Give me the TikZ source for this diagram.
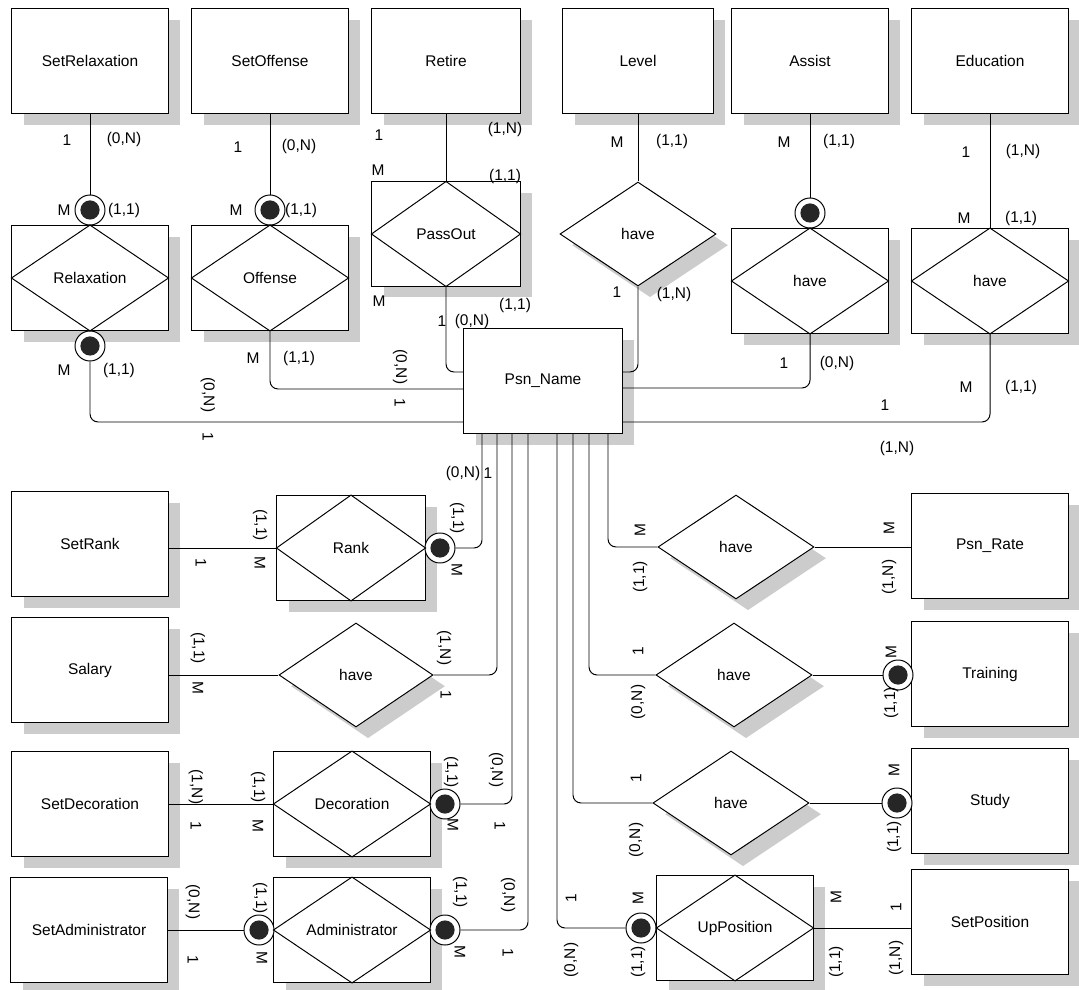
\documentclass[tikz,border=0pt]{standalone}
\usepackage{fontspec}
\setmainfont{Liberation Sans}
\usetikzlibrary{shapes.geometric,shadows}
\tikzset{
  entity/.style={draw, fill=white, minimum width=3.9cm, minimum height=2.62cm,
                 font=\fontsize{11}{13}\selectfont, inner sep=2pt,
                 drop shadow={shadow xshift=0.3cm, shadow yshift=-0.28cm,
                              fill=gray!40, opacity=1}},
  rel/.style   ={diamond, draw, fill=white, minimum width=3.9cm, minimum height=2.6cm,
                 font=\fontsize{11}{13}\selectfont, inner sep=0pt,
                 drop shadow={shadow xshift=0.3cm, shadow yshift=-0.28cm,
                              fill=gray!40, opacity=1}},
  optc/.style  ={circle, draw, fill=white, minimum size=0.75cm, inner sep=0pt,
                 path picture={\fill[black!85] (path picture bounding box.center) circle (0.24cm);}},
  conn/.style  ={rounded corners=0.2cm},
  lab/.style   ={font=\fontsize{11}{13}\selectfont, inner sep=0pt},
  labl/.style  ={lab, rotate=-90},
  labr/.style  ={lab, rotate=90},
}
\begin{document}
\begin{tikzpicture}[x=0.025cm, y=-0.025cm, line width=0.7pt]
  \useasboundingbox (0,0) rectangle (1079,990);
  %% top row
  \node[entity] (eSetRelax) at (90,61) {SetRelaxation};
  \node[entity] (eSetOff) at (270,61) {SetOffense};
  \node[entity, minimum width=3.7cm] (eRetire) at (446,61) {Retire};
  \node[entity, minimum width=3.75cm] (eLevel) at (638,61) {Level};
  \node[entity] (eAssist) at (810,61) {Assist};
  \node[entity] (eEdu) at (990,61) {Education};
  %% relationships under the top row
  \node[entity] (rRelax) at (90,278) {Relaxation};
  \node[entity] (rOff) at (270,278) {Offense};
  \node[entity, minimum width=3.7cm, minimum height=2.6cm] (rPass) at (446,234) {PassOut};
  \node[rel] (dLevel) at (638,234) {have};
  \node[entity] (rAssist) at (810,281) {have};
  \node[entity] (rEdu) at (990,281) {have};
  \node[optc] (cRelaxT) at (90,210) {};
  \node[optc] (cRelaxB) at (90,346) {};
  \node[optc] (cOffT) at (270,210) {};
  \node[optc] (cAssist) at (810,213) {};
  %% center
  \node[entity, minimum width=3.95cm] (psn) at (543,381) {Psn\_Name};
  %% lower left
  \node[entity] (eSetRank) at (90,544) {SetRank};
  \node[entity, minimum width=3.7cm] (rRank) at (351,548) {Rank};
  \node[optc] (cRank) at (440,548) {};
  \node[entity] (eSalary) at (90,670) {Salary};
  \node[rel, minimum width=3.85cm] (dSalary) at (356,675) {have};
  \node[entity] (eSetDec) at (90,804) {SetDecoration};
  \node[entity] (rDec) at (352,804) {Decoration};
  \node[optc] (cDec) at (445,804) {};
  \node[entity] (eSetAdm) at (89,930) {SetAdministrator};
  \node[entity] (rAdm) at (352,930) {Administrator};
  \node[optc] (cAdmL) at (259,930) {};
  \node[optc] (cAdmR) at (445,930) {};
  %% lower right
  \node[rel] (dRate) at (736,547) {have};
  \node[entity] (eRate) at (990,546) {Psn\_Rate};
  \node[rel] (dTrain) at (734,675) {have};
  \node[entity] (eTrain) at (990,674) {Training};
  \node[optc] (cTrain) at (898,675) {};
  \node[rel] (dStudy) at (731,803) {have};
  \node[entity] (eStudy) at (990,801) {Study};
  \node[optc] (cStudy) at (897,803) {};
  \node[entity] (rUp) at (735,928) {UpPosition};
  \node[optc] (cUp) at (641,928) {};
  \node[entity] (eSetPos) at (990,922) {SetPosition};
  %% diamonds inside the boxed relationships
  \foreach \r in {rRelax,rOff,rPass,rAssist,rEdu,rRank,rDec,rAdm,rUp}
    \draw (\r.north) -- (\r.east) -- (\r.south) -- (\r.west) -- cycle;
  %% entry points on Psn_Name
  \coordinate (pl1) at (psn.west |- 0,372);
  \coordinate (pl2) at (psn.west |- 0,389);
  \coordinate (pl3) at (psn.west |- 0,422);
  \coordinate (pr1) at (psn.east |- 0,372);
  \coordinate (pr2) at (psn.east |- 0,388);
  \coordinate (pr3) at (psn.east |- 0,422);
  \foreach \x [count=\i] in {482,497,512,528,557,573,589,608}
    \coordinate (pb\i) at (psn.south -| \x,0);
  %% connectors
  \draw (eSetRelax) -- (cRelaxT);
  \draw (eSetOff) -- (cOffT);
  \draw (eRetire) -- (rPass);
  \draw (eLevel) -- (dLevel);
  \draw (eAssist) -- (cAssist);
  \draw (eEdu) -- (rEdu);
  \draw[conn] (cRelaxB.south) |- (pl3);
  \draw[conn] (rOff.south) |- (pl2);
  \draw[conn] (rPass.south) |- (pl1);
  \draw[conn] (dLevel.south) |- (pr1);
  \draw[conn] (rAssist.south) |- (pr2);
  \draw[conn] (rEdu.south) |- (pr3);
  \draw[conn] (pb1) |- (cRank.east);
  \draw[conn] (pb2) |- (dSalary.east);
  \draw[conn] (pb3) |- (cDec.east);
  \draw[conn] (pb4) |- (cAdmR.east);
  \draw[conn] (pb5) |- (cUp.west);
  \draw[conn] (pb6) |- (dStudy.west);
  \draw[conn] (pb7) |- (dTrain.west);
  \draw[conn] (pb8) |- (dRate.west);
  \draw (eSetRank.east |- rRank.west) -- (rRank.west);
  \draw (eSalary.east |- dSalary.west) -- (dSalary.west);
  \draw (eSetDec.east |- rDec.west) -- (rDec.west);
  \draw (eSetAdm.east |- cAdmL.west) -- (cAdmL.west);
  \draw (dRate.east) -- (dRate.east -| eRate.west);
  \draw (dTrain.east) -- (cTrain.west);
  \draw (dStudy.east) -- (cStudy.west);
  \draw (rUp.east) -- (rUp.east -| eSetPos.west);
  %% cardinalities
  \foreach \t/\p [count=\i] in {1/{67,140},{(0,N)}/{124,140},M/{64,210},{(1,1)}/{124,210},
      1/{238,147},{(0,N)}/{299,147},M/{236,210},{(1,1)}/{301,210},
      1/{379,135},{(1,N)}/{505,130},M/{378,170},{(1,1)}/{505,177},
      M/{617,142},{(1,1)}/{672,142},M/{784,142},{(1,1)}/{839,142},
      1/{966,152},{(1,N)}/{1023,152},M/{964,218},{(1,1)}/{1021,218},
      M/{64,370},{(1,1)}/{119,370},M/{253,358},{(1,1)}/{299,358},
      M/{379,301},{(1,1)}/{515,305},1/{442,321},{(0,N)}/{472,321},
      1/{617,292},{(1,N)}/{674,294},1/{784,363},{(0,N)}/{837,363},
      M/{966,387},{(1,1)}/{1021,387},1/{885,405},{(1,N)}/{897,448},
      {(0,N)}/{463,473},1/{488,473}}
    \node[lab] (h\i) at (\p) {\t};
  \foreach \t/\p [count=\i] in {{(0,N)}/{208,395},1/{208,437},{(0,N)}/{400,367},1/{400,403},
      {(1,1)}/{260,525},M/{260,563},1/{201,563},{(1,1)}/{457,518},M/{457,570},
      {(1,1)}/{198,648},M/{198,688},{(1,N)}/{444,648},1/{446,695},
      {(1,N)}/{196,787},1/{196,826},{(1,1)}/{258,787},M/{258,826},
      {(1,1)}/{451,772},M/{453,825},{(0,N)}/{496,770},1/{500,826},
      {(0,N)}/{193,902},1/{193,960},{(1,1)}/{260,898},M/{262,958},
      {(1,1)}/{460,892},M/{460,952},{(0,N)}/{508,895},1/{508,953}}
    \node[labl] (l\i) at (\p) {\t};
  \foreach \t/\p [count=\i] in {M/{640,530},{(1,1)}/{640,577},M/{889,528},{(1,N)}/{889,577},
      1/{638,651},{(0,N)}/{638,702},M/{891,652},{(1,1)}/{891,703},
      1/{636,778},{(0,N)}/{636,840},M/{894,770},{(1,1)}/{894,837},
      1/{571,898},{(0,N)}/{571,960},M/{638,898},{(1,1)}/{638,962},
      M/{836,897},{(1,1)}/{836,962},1/{896,907},{(1,N)}/{896,958}}
    \node[labr] (r\i) at (\p) {\t};
\end{tikzpicture}
\end{document}
